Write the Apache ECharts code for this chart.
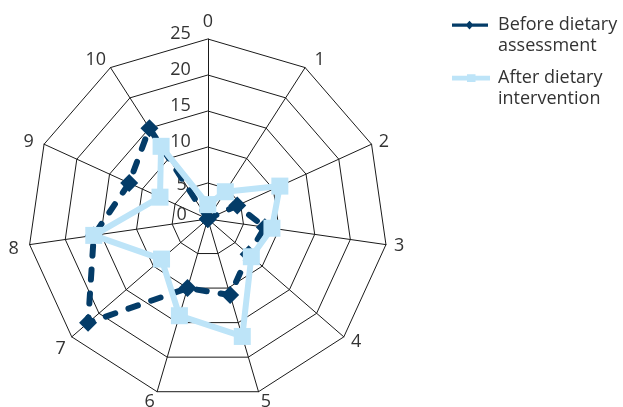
<!DOCTYPE html>
<html>
<head>
<meta charset="utf-8">
<script src="https://cdn.jsdelivr.net/npm/echarts@6/dist/echarts.min.js"></script>
<style>
  html, body { margin: 0; padding: 0; background: #fff; }
  #chart { width: 623px; height: 407px; }
</style>
</head>
<body>
<div id="chart"></div>
<script>
// Spoke labels, clockwise from the top
const axisNames = ['0', '1', '2', '3', '4', '5', '6', '7', '8', '9', '10'];
// Scores per spoke, same order as axisNames
const beforeValues = [0, 0, 4.5, 8, 7.5, 11, 10, 22, 16, 12, 15];
const afterValues  = [2, 4.5, 11, 9, 8, 17, 14, 8.5, 16, 7.3, 12];
const seriesNames = ['Before dietary\nassessment', 'After dietary\nintervention'];
const radialTicks = [0, 5, 10, 15, 20, 25];

const FONT = '"Open Sans", sans-serif';
const DARK = '#043c68';
const LIGHT = '#bde4f8';
const CX = 207.8, CY = 219, R = 180;

// ECharts lays radar indicators out counter-clockwise; reorder so they read clockwise.
const order = [0].concat(axisNames.slice(1).map((_, i) => axisNames.length - 1 - i));
const reorder = arr => order.map(i => arr[i]);

// Legend icons: line + marker sitting level with the first text line.
// The two zero-area segments pin the icon's bounds to the whole 41x42 item box.
const BOX = 'M0,0 L0.01,0 M41,42 L40.99,42 ';
const darkIcon = 'path://' + BOX + 'M0,9h36v3.2h-36z M17.5,6.3 L21.5,10.6 L17.5,14.9 L13.5,10.6 Z';
const lightIcon = 'path://' + BOX + 'M0,8.3h38v4.6h-38z M15,6.8h8.5v7.6h-8.5z';

const legendText = { fontFamily: FONT, fontSize: 18, color: '#333', lineHeight: 21 };

// Radial tick label styles: the inner two sit a little further from the spoke
const tickRich = {
  n:  { fontFamily: FONT, fontSize: 18, color: '#333', padding: [0, 0, 10, 0] },
  lo: { fontFamily: FONT, fontSize: 18, color: '#333', padding: [4, 4, 0, 0] },
  c:  { fontFamily: FONT, fontSize: 18, color: '#333', padding: [0, 4, 8, 0] }
};

// Per-spoke nudges for the spoke names
const namePad = {
  '0': [0, 0, 0, 0], '1': [0, 0, 2, 5], '2': [2, 0, 0, 0], '3': [0, 0, 0, 0],
  '4': [0, 0, 0, 1], '5': [4, 0, 0, 0], '6': [4, 0, 0, 0], '7': [13, 0, 0, 0],
  '8': [6, 3, 0, 0], '9': [2, 3, 0, 0], '10': [0, 0, 2, 0]
};
const nameRich = {};
axisNames.forEach((n, i) => {
  nameRich['s' + i] = { fontFamily: FONT, fontSize: 18, color: '#333', padding: namePad[n] };
});

const chart = echarts.init(document.getElementById('chart'), null, { renderer: 'canvas' });

chart.setOption({
  animation: false,
  textStyle: { fontFamily: FONT },
  legend: [
    {
      left: 452, top: 14.5, orient: 'vertical', padding: 0,
      data: [{ name: seriesNames[0], icon: darkIcon }],
      itemWidth: 41, itemHeight: 42,
      textStyle: legendText
    },
    {
      left: 452, top: 67.5, orient: 'vertical', padding: 0,
      data: [{ name: seriesNames[1], icon: lightIcon }],
      itemWidth: 41, itemHeight: 42,
      textStyle: legendText
    }
  ],
  radar: {
    center: [CX, CY],
    radius: R,
    startAngle: 90,
    shape: 'polygon',
    splitNumber: 5,
    indicator: reorder(axisNames).map(n => ({ name: n, min: 0, max: 25 })),
    axisName: {
      color: '#333', fontSize: 18, fontFamily: FONT,
      formatter: name => '{s' + axisNames.indexOf(name) + '|' + name + '}',
      rich: nameRich
    },
    nameGap: 8,
    axisLine: { lineStyle: { color: '#1a1a1a', width: 1 } },
    splitLine: { lineStyle: { color: '#1a1a1a', width: 1 } },
    splitArea: { show: false },
    axisTick: { show: false },
    axisLabel: { show: false }
  },
  // Polar system sharing the radar's centre, used only for the radial tick labels
  polar: { center: [CX, CY], radius: R },
  angleAxis: { type: 'value', min: 0, max: 360, startAngle: 90, show: false },
  radiusAxis: {
    type: 'value', min: 0, max: 25, interval: 5,
    axisLine: { show: false }, axisTick: { show: false }, splitLine: { show: false },
    axisLabel: {
      color: '#333', fontSize: 18, fontFamily: FONT, margin: 17,
      formatter: v => {
        if (!radialTicks.includes(v)) return '';
        if (v === 5) return '{lo|' + v + '}';
        if (v === 0) return '{c|' + v + '}';
        return '{n|' + v + '}';
      },
      rich: tickRich
    }
  },
  series: [
    {
      type: 'radar',
      name: seriesNames[0],
      symbol: 'diamond',
      symbolSize: 18,
      z: 2,
      itemStyle: { color: DARK },
      lineStyle: { color: DARK, width: 6, type: [10, 14], cap: 'round' },
      data: [{ value: reorder(beforeValues), name: seriesNames[0] }]
    },
    {
      type: 'radar',
      name: seriesNames[1],
      symbol: 'rect',
      symbolSize: 17,
      z: 3,
      itemStyle: { color: LIGHT },
      lineStyle: { color: LIGHT, width: 6, type: 'solid' },
      data: [{ value: reorder(afterValues), name: seriesNames[1] }]
    }
  ]
});
</script>
</body>
</html>
